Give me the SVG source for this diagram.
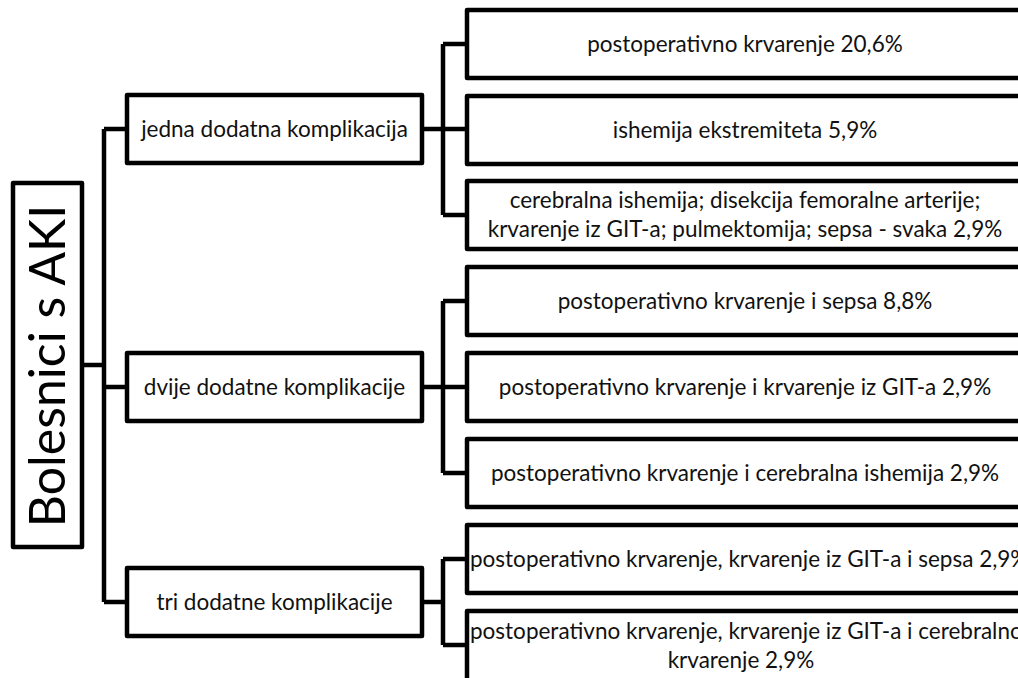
<svg xmlns="http://www.w3.org/2000/svg" width="1018" height="678" viewBox="0 0 1018 678">
<style>
.box{fill:#fff;stroke:#000;stroke-width:4.5;stroke-linejoin:round}
.ln{fill:none;stroke:#000;stroke-width:4.5;stroke-linejoin:round}
.t{font-family:Lato,"Open Sans","Liberation Sans",sans-serif;font-size:22.5px;fill:#111;text-anchor:middle}
.root{font-family:Lato,"Open Sans","Liberation Sans",sans-serif;font-size:50px;fill:#000;text-anchor:middle}
</style>
<rect width="1018" height="678" fill="#fff"/>
<g id="connectors">
<path class="ln" d="M82 365H104M104 129V602M104 129H127M104 387H127M104 602H127"/>
<path class="ln" d="M422 129H467M443 44V215M443 44H467M443 215H467"/>
<path class="ln" d="M422 387H467M443 301V473M443 301H467M443 473H467"/>
<path class="ln" d="M422 602H443M443 559V645M443 559H467M443 645H467"/>
</g>
<g id="root"><rect class="box" x="13" y="183" width="69" height="364"/><text class="root" transform="translate(65,366) rotate(-90)">Bolesnici s AKI</text></g>
<g id="n1"><rect class="box" x="127" y="95" width="295" height="68"/><text class="t" x="274.5" y="137">jedna dodatna komplikacija</text></g>
<g id="n2"><rect class="box" x="127" y="353" width="295" height="68"/><text class="t" x="274.5" y="395">dvije dodatne komplikacije</text></g>
<g id="n3"><rect class="box" x="127" y="568" width="295" height="68"/><text class="t" x="274.5" y="610">tri dodatne komplikacije</text></g>
<g id="a1"><rect class="box" x="467" y="10" width="556" height="68"/><text class="t" x="745" y="52">postoperativno krvarenje 20,6%</text></g>
<g id="a2"><rect class="box" x="467" y="96" width="556" height="68"/><text class="t" x="745" y="138">ishemija ekstremiteta 5,9%</text></g>
<g id="a3"><rect class="box" x="467" y="181" width="556" height="68"/><text class="t" x="745" y="208">cerebralna ishemija; disekcija femoralne arterije;</text><text class="t" x="745" y="237">krvarenje iz GIT-a; pulmektomija; sepsa - svaka 2,9%</text></g>
<g id="b1"><rect class="box" x="467" y="267" width="556" height="68"/><text class="t" x="745" y="309">postoperativno krvarenje i sepsa 8,8%</text></g>
<g id="b2"><rect class="box" x="467" y="353" width="556" height="68"/><text class="t" x="745" y="395">postoperativno krvarenje i krvarenje iz GIT-a 2,9%</text></g>
<g id="b3"><rect class="box" x="467" y="439" width="556" height="68"/><text class="t" x="745" y="481">postoperativno krvarenje i cerebralna ishemija 2,9%</text></g>
<g id="c1"><rect class="box" x="467" y="525" width="556" height="68"/><text class="t" x="470" y="567" style="text-anchor:start">postoperativno krvarenje, krvarenje iz GIT-a i sepsa 2,9%</text></g>
<g id="c2"><rect class="box" x="467" y="611" width="556" height="80"/><text class="t" x="470" y="639" style="text-anchor:start">postoperativno krvarenje, krvarenje iz GIT-a i cerebralno</text><text class="t" x="741" y="668">krvarenje 2,9%</text></g>
</svg>
